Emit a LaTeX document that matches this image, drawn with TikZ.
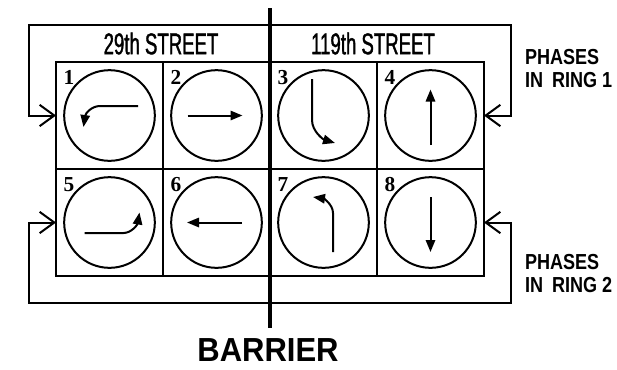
\documentclass[tikz,border=0pt]{standalone}
\usepackage{fontspec}
\setmainfont{Liberation Sans}
\newfontfamily\numfont{Liberation Serif}
\newfontfamily\streetfont{Liberation Sans}[FakeStretch=0.62, FakeBold=1.2]
\newfontfamily\phasefont{Liberation Sans}[FakeStretch=0.83]
\newfontfamily\barrierfont{Liberation Sans}[FakeStretch=0.93]
\usetikzlibrary{positioning, arrows.meta, calc}

\begin{document}
\begin{tikzpicture}[
    x=0.75pt, y=-0.75pt,
    every node/.style={inner sep=0pt, outer sep=0pt},
    cell/.style={draw, line width=1.5pt, minimum size=80.25pt},
    dial/.style={draw, circle, line width=1.5pt, minimum size=68pt},
    num/.style={font=\numfont\bfseries\fontsize{16}{16}\selectfont},
    street/.style={font=\streetfont\fontsize{22.5}{22.5}\selectfont},
    phase/.style={font=\phasefont\bfseries\fontsize{16.3}{17.25}\selectfont,
                  align=left, anchor=west},
    ring/.style={line width=1.5pt,
                 {Straight Barb[length=11pt, width=16pt]}-{Straight Barb[length=11pt, width=16pt]}},
    move/.style={line width=1.5pt, -{Triangle[length=9pt, width=7pt]}},
    wall/.style={line width=2.5pt},
  ]
  \clip (0,0) rectangle (617,369);

  % street names
  \node[street] (st29)  at (161,43.5) {29th STREET};
  \node[street] (st119) at (373,43.5) {119th STREET};

  % phase cells
  \node[cell] (c1) at (109.5,115.5) {};
  \node[cell] (c2) at (216.5,115.5) {};
  \node[cell] (c3) at (323.5,115.5) {};
  \node[cell] (c4) at (430.5,115.5) {};
  \node[cell] (c5) at (109.5,222.5) {};
  \node[cell] (c6) at (216.5,222.5) {};
  \node[cell] (c7) at (323.5,222.5) {};
  \node[cell] (c8) at (430.5,222.5) {};

  \node[dial] (d1) at (c1) {};
  \node[dial] (d2) at (c2) {};
  \node[dial] (d3) at (c3) {};
  \node[dial] (d4) at (c4) {};
  \node[dial] (d5) at (c5) {};
  \node[dial] (d6) at (c6) {};
  \node[dial] (d7) at (c7) {};
  \node[dial] (d8) at (c8) {};

  \node[num] (n1) at ($(c1.north west)+(13,15.5)$) {1};
  \node[num] (n2) at ($(c2.north west)+(13,15.5)$) {2};
  \node[num] (n3) at ($(c3.north west)+(13,15.5)$) {3};
  \node[num] (n4) at ($(c4.north west)+(13,15.5)$) {4};
  \node[num] (n5) at ($(c5.north west)+(13,15.5)$) {5};
  \node[num] (n6) at ($(c6.north west)+(13,15.5)$) {6};
  \node[num] (n7) at ($(c7.north west)+(13,15.5)$) {7};
  \node[num] (n8) at ($(c8.north west)+(13,15.5)$) {8};

  % movements
  \begin{scope}[shift={(d1)}]
    \draw[move] (28.5,-9.5) -- (-9.5,-9.5) .. controls (-18,-9.5) and (-24,-2) .. (-26,11.5);
  \end{scope}
  \begin{scope}[shift={(d2)}]
    \draw[move] (-29,0) -- (26,0);
  \end{scope}
  \begin{scope}[shift={(d3)}]
    \draw[move] (-11.5,-36.5) -- (-11.5,4.5) .. controls (-11.5,16) and (0,24) .. (11.5,27.5);
  \end{scope}
  \begin{scope}[shift={(d4)}]
    \draw[move] (0,29.5) -- (0,-26);
  \end{scope}
  \begin{scope}[shift={(d5)}]
    \draw[move] (-25,10.5) -- (14,10.5) .. controls (22,10.5) and (28,2) .. (30,-10);
  \end{scope}
  \begin{scope}[shift={(d6)}]
    \draw[move] (25.5,0) -- (-29.5,0);
  \end{scope}
  \begin{scope}[shift={(d7)}]
    \draw[move] (9.5,29.5) -- (9.5,-9.5) .. controls (9.5,-18) and (0,-24) .. (-10.5,-25.5);
  \end{scope}
  \begin{scope}[shift={(d8)}]
    \draw[move] (0,-25.5) -- (0,29.5);
  \end{scope}

  % ring loops
  \coordinate (loop1l) at (29,25);
  \coordinate (loop1r) at (511,25);
  \coordinate (loop2l) at (29,303);
  \coordinate (loop2r) at (511,303);
  \draw[ring] (c1.west) -| (loop1l) -- (loop1r) |- (c4.east);
  \draw[ring] (c5.west) -| (loop2l) -- (loop2r) |- (c8.east);

  \node[phase] (ring1) at (525,68.5) {PHASES\\IN\hspace{3pt} RING 1};
  \node[phase] (ring2) at (525,274)  {PHASES\\IN\hspace{3pt} RING 2};

  % barrier
  \node[font=\barrierfont\bfseries\fontsize{25}{25}\selectfont, inner sep=8pt]
    (barrier) at (268,350) {BARRIER};
  \coordinate (bartop) at (270,8);
  \draw[wall] (bartop) -- (bartop |- barrier.north);
\end{tikzpicture}
\end{document}
